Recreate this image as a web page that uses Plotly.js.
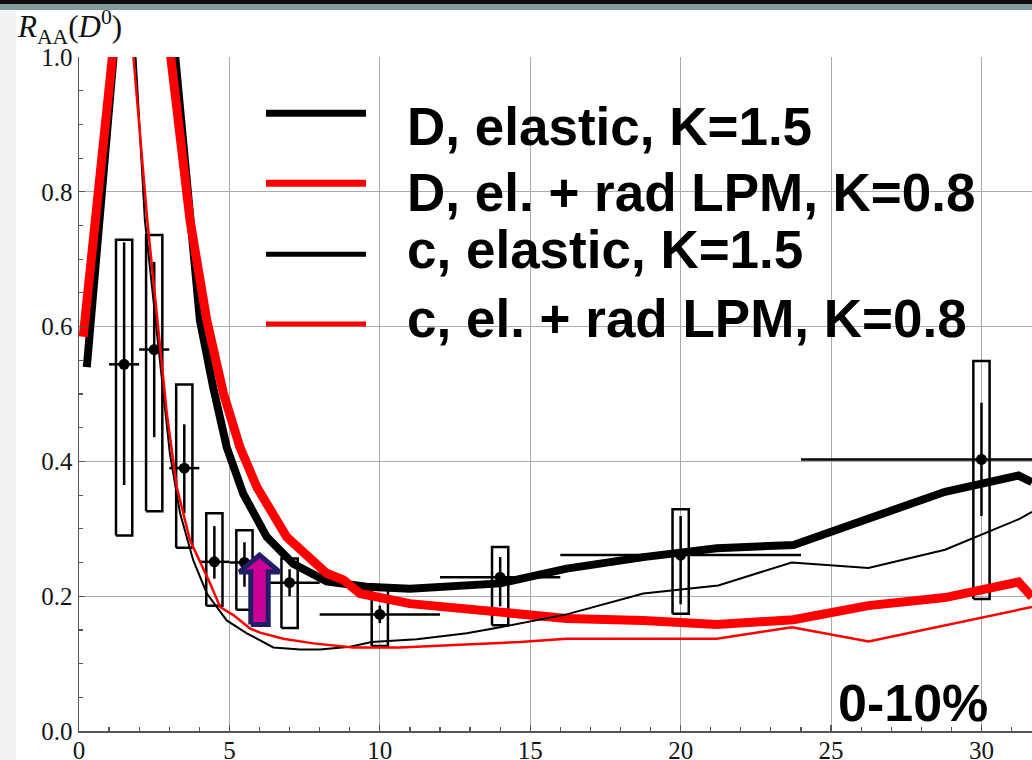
<!DOCTYPE html>
<html>
<head>
<meta charset="utf-8">
<script src="https://cdn.plot.ly/plotly-3.0.1.min.js"></script>
<style>
html,body{margin:0;padding:0;background:#fff;}
#chart{width:1032px;height:760px;}
</style>
</head>
<body>
<div id="chart"></div>
<script>
// ---- Data: measured D0 R_AA (0-10%) ----
const pT      = [1.5, 2.5, 3.5, 4.5, 5.5, 7, 10, 14, 20, 30];
const raa     = [0.544, 0.566, 0.390, 0.251, 0.250, 0.220, 0.173, 0.228, 0.261, 0.403];
const pTerr   = [0.5, 0.5, 0.5, 0.5, 0.5, 1, 2, 2, 4, 6];
const statUp  = [0.181, 0.13, 0.065, 0.053, 0.030, 0.02, 0.013, 0.030, 0.058, 0.084];
const statDn  = [0.179, 0.13, 0.067, 0.025, 0.036, 0.02, 0.013, 0.043, 0.073, 0.084];
const sysLow  = [0.290, 0.326, 0.272, 0.186, 0.180, 0.153, 0.126, 0.157, 0.174, 0.196];
const sysHigh = [0.729, 0.736, 0.514, 0.323, 0.298, 0.256, 0.210, 0.273, 0.329, 0.549];

// ---- Model curves ----
const dElX  = [0.26, 1.15, 2.21, 3.2, 3.72, 4.02, 4.46, 4.91, 5.46, 6.24, 7.12, 8.23, 9.56, 11.0, 14.0, 16.21, 18.76, 21.2, 23.75, 26.24, 28.79, 31.23, 31.68];
const dElY  = [0.540, 1.0, 1.55, 1.0, 0.758, 0.609, 0.510, 0.421, 0.352, 0.288, 0.248, 0.222, 0.214, 0.211, 0.219, 0.241, 0.258, 0.271, 0.276, 0.315, 0.355, 0.379, 0.369];
const dRadX = [0.14, 1.11, 2.02, 3.05, 3.69, 4.25, 4.8, 5.35, 5.91, 6.9, 8.23, 8.79, 9.34, 11.0, 14.0, 16.21, 18.76, 21.2, 23.75, 26.24, 28.79, 31.23, 31.68];
const dRadY = [0.585, 1.0, 1.39, 1.0, 0.758, 0.609, 0.501, 0.421, 0.362, 0.288, 0.234, 0.224, 0.204, 0.189, 0.177, 0.167, 0.164, 0.158, 0.165, 0.186, 0.198, 0.221, 0.199];
const cElX  = [1.7, 1.88, 2.19, 2.69, 3.02, 3.36, 3.8, 4.25, 4.91, 5.58, 6.46, 7.35, 8.01, 9.01, 9.73, 11.23, 12.89, 14.0, 16.21, 18.76, 21.25, 23.69, 26.24, 28.79, 31.28, 31.68];
const cElY  = [1.2, 1.0, 0.758, 0.545, 0.412, 0.323, 0.253, 0.204, 0.164, 0.145, 0.124, 0.121, 0.121, 0.125, 0.132, 0.136, 0.145, 0.154, 0.173, 0.204, 0.216, 0.250, 0.242, 0.269, 0.315, 0.325];
const cRadX = [1.6, 1.81, 2.27, 2.92, 3.25, 3.69, 4.36, 4.69, 5.13, 5.69, 6.02, 6.79, 7.79, 9.12, 10.67, 12.89, 14.66, 16.21, 21.2, 23.7, 26.25, 31.68];
const cRadY = [1.2, 1.0, 0.758, 0.471, 0.362, 0.283, 0.219, 0.184, 0.172, 0.152, 0.146, 0.137, 0.130, 0.124, 0.124, 0.128, 0.132, 0.137, 0.137, 0.154, 0.133, 0.184];

// ---- Arrow marker (pT position, base and tip in R_AA) ----
const arrowX = [6.0];
const arrowBase = [0.158];
const arrowTip = [0.261];

// ---- Text ----
const legendNames = ["D, elastic, K=1.5", "D, el. + rad LPM, K=0.8", "c, elastic, K=1.5", "c, el. + rad LPM, K=0.8"];
const centralityLabel = "0-10%";
const yTitle = "<i>R</i><sub>AA</sub>(<i>D</i><sup>0</sup>)";

// ---- geometry helpers (pixel -> paper) ----
const ML = 79, MT = 57, MB = 29, W = 1032, H = 760;
const PW = W - ML, PH = H - MT - MB;
const px = X => (X - ML) / PW;
const py = Y => (H - MB - Y) / PH;

// systematic boxes built from arrays
const boxHalf = 0.27;
const bx = [], by = [];
pT.forEach((x, i) => {
  bx.push(x - boxHalf, x + boxHalf, x + boxHalf, x - boxHalf, x - boxHalf, null);
  by.push(sysLow[i], sysLow[i], sysHigh[i], sysHigh[i], sysLow[i], null);
});

// arrow polygon built from arrays
const shaftHalf = 0.29, headHalf = 0.665, headBase = 0.236;
const ax = [], ay = [];
arrowX.forEach((x, i) => {
  ax.push(x - shaftHalf, x + shaftHalf, x + shaftHalf, x + headHalf, x, x - headHalf, x - shaftHalf, x - shaftHalf);
  ay.push(arrowBase[i], arrowBase[i], headBase, headBase, arrowTip[i], headBase, headBase, arrowBase[i]);
});

const traces = [
  {x: bx, y: by, mode: 'lines', line: {color: '#000', width: 2.5}, hoverinfo: 'skip'},
  {x: pT, y: raa, mode: 'markers', marker: {color: '#000', size: 11},
   error_x: {type: 'data', array: pTerr, width: 0, thickness: 2.5, color: '#000'},
   error_y: {type: 'data', symmetric: false, array: statUp, arrayminus: statDn, width: 0, thickness: 2.5, color: '#000'}},
  {x: dElX, y: dElY, mode: 'lines', line: {color: '#000', width: 8}},
  {x: dRadX, y: dRadY, mode: 'lines', line: {color: '#ff0000', width: 9}},
  {x: cElX, y: cElY, mode: 'lines', line: {color: '#000', width: 2}},
  {x: cRadX, y: cRadY, mode: 'lines', line: {color: '#ff0000', width: 2.5}},
  {x: ax, y: ay, mode: 'lines', fill: 'toself', fillcolor: '#cc0099', line: {color: '#211d66', width: 5}}
];

const legendY = [113.3, 183.3, 254.3, 324];
const legendW = [7, 7, 5, 5];
const legendC = ['#000', '#ff0000', '#000', '#ff0000'];
const textY = [126, 193, 250, 318];

const shapes = [
  {type: 'rect', xref: 'paper', yref: 'paper', x0: px(0), x1: px(W), y0: py(4), y1: py(0), fillcolor: '#0d0d0d', line: {width: 0}, layer: 'below'},
  {type: 'rect', xref: 'paper', yref: 'paper', x0: px(0), x1: px(W), y0: py(10), y1: py(4), fillcolor: '#829b9c', line: {width: 0}, layer: 'below'},
  {type: 'rect', xref: 'paper', yref: 'paper', x0: px(0), x1: px(16), y0: py(H), y1: py(10), fillcolor: '#f3f3f3', line: {width: 0}, layer: 'below'}
];
legendY.forEach((yy, i) => shapes.push({type: 'line', xref: 'paper', yref: 'paper', x0: px(266), x1: px(366), y0: py(yy), y1: py(yy), line: {color: legendC[i], width: legendW[i]}}));

const annotations = legendNames.map((t, i) => ({
  text: '<b>' + t + '</b>', xref: 'paper', yref: 'paper', x: px(405), y: py(textY[i]),
  xanchor: 'left', yanchor: 'middle', showarrow: false,
  font: {family: 'Liberation Sans, Arial, sans-serif', size: 53, color: '#000'}
}));
annotations.push({text: '<b>' + centralityLabel + '</b>', xref: 'paper', yref: 'paper', x: px(836), y: py(703),
  xanchor: 'left', yanchor: 'middle', showarrow: false,
  font: {family: 'Liberation Sans, Arial, sans-serif', size: 52, color: '#000'}});
annotations.push({text: yTitle, xref: 'paper', yref: 'paper', x: px(15), y: py(27),
  xanchor: 'left', yanchor: 'middle', showarrow: false,
  font: {family: 'Liberation Serif, Times New Roman, serif', size: 31, color: '#111'}});

const tickFont = {family: 'Liberation Serif, Times New Roman, serif', size: 25, color: '#151515'};
const layout = {
  width: W, height: H,
  margin: {l: ML, r: 0, t: MT, b: MB, pad: 0},
  paper_bgcolor: '#fff', plot_bgcolor: '#fff',
  showlegend: false,
  xaxis: {range: [0, 31.68], tick0: 0, dtick: 5, showgrid: true, gridcolor: '#ababab', gridwidth: 1,
    zeroline: false, showline: true, linecolor: '#555', linewidth: 1.5, ticks: 'inside', ticklen: 6,
    tickcolor: '#555', tickwidth: 1.2, tickfont: tickFont, ticklabelstandoff: -4,
    minor: {dtick: 1, ticks: 'inside', ticklen: 4, tickcolor: '#555', tickwidth: 1.2, showgrid: false}},
  yaxis: {range: [0, 1], tick0: 0, dtick: 0.2, tickformat: '.1f', showgrid: true, gridcolor: '#ababab', gridwidth: 1,
    zeroline: false, showline: true, linecolor: '#555', linewidth: 1.5, ticks: 'inside', ticklen: 6,
    tickcolor: '#555', tickwidth: 1.2, tickfont: tickFont,
    minor: {dtick: 0.05, ticks: 'inside', ticklen: 4, tickcolor: '#555', tickwidth: 1.2, showgrid: false}},
  shapes: shapes,
  annotations: annotations
};

Plotly.newPlot('chart', traces, layout, {staticPlot: true});
</script>
</body>
</html>
